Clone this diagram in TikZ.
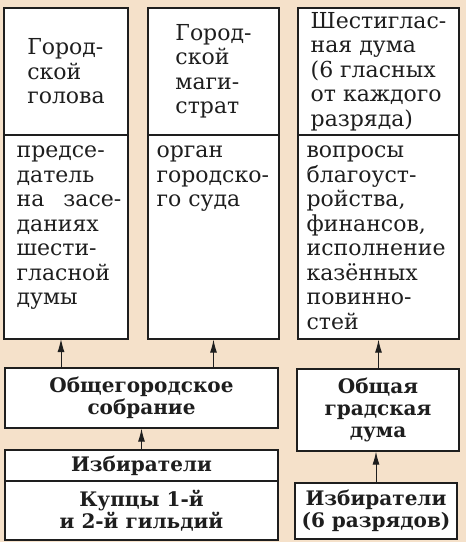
\documentclass[tikz,border=0pt]{standalone}
\usepackage{fontspec}
\setmainfont{DejaVu Serif}
\usetikzlibrary{arrows.meta}
\definecolor{paper}{HTML}{F5E1CA}
\definecolor{ink}{HTML}{1E1E1E}

\begin{document}
\begin{tikzpicture}[x=1pt,y=-1pt,
  box/.style={draw=ink,line width=1.2pt,fill=white,inner sep=0pt},
  head/.style={font=\fontsize{22}{24.5}\selectfont,align=left,text=ink},
  body/.style={font=\fontsize{22}{24.5}\selectfont,align=left,text=ink,anchor=north west,inner sep=0pt},
  low/.style={font=\bfseries\fontsize{20}{22}\selectfont,align=center,text=ink},
  link/.style={draw=ink,-{Latex[length=13pt,width=7pt]},line width=1pt}]
\fill[paper] (0,0) rectangle (466,542);
\useasboundingbox (0,0) rectangle (466,542);
% upper columns
\node[box,head,minimum width=124pt,minimum height=127pt] (gol-head) at (66,71.5) {Город-\\ской\\голова};
\node[box,minimum width=124pt,minimum height=204pt] (gol-body) at (66,237) {};
\node[body] (gol-txt) at ([xshift=13pt,yshift=-11.5pt]gol-body.north west)
  {предсе-\\датель\\на\hspace{0.55em} засе-\\даниях\\шести-\\гласной\\думы};
\node[box,head,minimum width=131pt,minimum height=127pt] (mag-head) at (213.5,71.5) {Город-\\ской\\маги-\\страт};
\node[box,minimum width=131pt,minimum height=204pt] (mag-body) at (213.5,237) {};
\node[body] (mag-txt) at ([xshift=9pt,yshift=-11.5pt]mag-body.north west)
  {орган\\городско-\\го суда};
\node[box,head,minimum width=161pt,minimum height=127pt] (duma6-head) at (378.5,71.5) {Шестиглас-\\ная дума\\(6 гласных\\от каждого\\разряда)};
\node[box,minimum width=161pt,minimum height=204pt] (duma6-body) at (378.5,237) {};
\node[body] (duma6-txt) at ([xshift=9pt,yshift=-11.5pt]duma6-body.north west)
  {вопросы\\благоуст-\\ройства,\\финансов,\\исполнение\\казённых\\повинно-\\стей};
% lower boxes
\node[box,low,minimum width=273pt,minimum height=60pt] (obshch) at (141.5,398) {Общегородское\\собрание};
\node[box,low,minimum width=273pt,minimum height=31pt] (izb) at (141.5,465.5) {Избиратели};
\node[box,low,minimum width=273pt,minimum height=59pt] (kup) at (141.5,510.5) {Купцы 1-й\\и 2-й гильдий};
\node[box,low,minimum width=162pt,minimum height=82pt] (duma) at (378,410) {Общая\\градская\\дума};
\node[box,low,minimum width=162pt,minimum height=56pt] (razr) at (376,511) {Избиратели\\(6 разрядов)};
% arrows
\coordinate (gol-in) at (61,339);
\draw[link] (obshch.north -| gol-in) -- (gol-in);
\draw[link] (obshch.north -| mag-body.south) -- (mag-body.south);
\draw[link] (izb.north) -- (obshch.south);
\draw[link] (duma.north -| duma6-body.south) -- (duma6-body.south);
\draw[link] (razr.north) -- (razr.north |- duma.south);
\end{tikzpicture}
\end{document}
